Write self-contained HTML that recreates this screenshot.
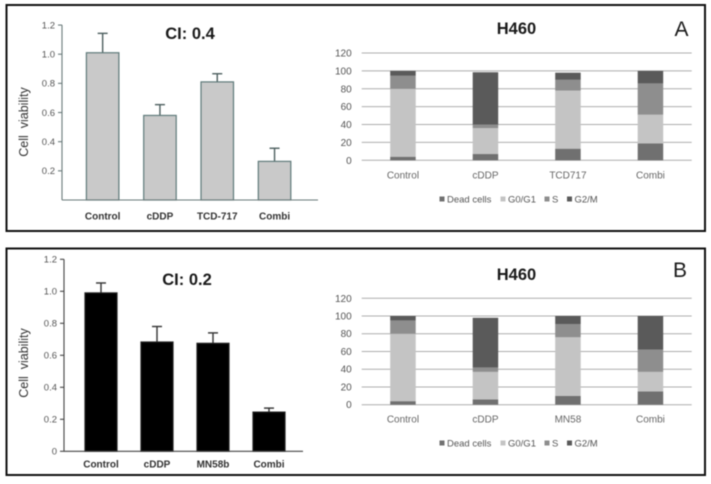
<!DOCTYPE html>
<html lang="en">
<head>
<meta charset="utf-8">
<title>H460 cell viability and cell cycle</title>
<style>
  html, body { margin: 0; padding: 0; background: #fff; }
  svg { display: block; filter: blur(0.45px); font-family: "Liberation Sans", sans-serif; }
</style>
</head>
<body>
<svg id="figure" width="711" height="484" viewBox="0 0 711 484" xmlns="http://www.w3.org/2000/svg">
  <rect x="0" y="0" width="711" height="484" fill="#fff"/>
  <rect x="6.5" y="5" width="698.5" height="226" fill="#fff" stroke="#111" stroke-width="2"/>
  <rect x="6.5" y="248.5" width="698.5" height="226.5" fill="#fff" stroke="#111" stroke-width="2"/>

  <text x="190" y="39" font-size="16.5" font-weight="bold" text-anchor="middle" fill="#1a1a1a">CI: 0.4</text>
  <text x="187" y="285" font-size="16.5" font-weight="bold" text-anchor="middle" fill="#1a1a1a">CI: 0.2</text>
  <text x="516.5" y="34" font-size="16.5" font-weight="bold" text-anchor="middle" fill="#1a1a1a">H460</text>
  <text x="516.5" y="280" font-size="16.5" font-weight="bold" text-anchor="middle" fill="#1a1a1a">H460</text>
  <text x="681.5" y="36" font-size="21" text-anchor="middle" fill="#1a1a1a">A</text>
  <text x="680" y="277" font-size="21" text-anchor="middle" fill="#1a1a1a">B</text>

  <text transform="translate(28,122) rotate(-90)" font-size="12.5" text-anchor="middle" fill="#333" xml:space="preserve">Cell  viability</text>
  <text transform="translate(28,363) rotate(-90)" font-size="12.5" text-anchor="middle" fill="#333" xml:space="preserve">Cell  viability</text>
</svg>

<script>
// Panel A: viability bars
const viabilityCategoriesA = ['Control', 'cDDP', 'TCD-717', 'Combi'];
const viabilityValuesA = [1.01, 0.58, 0.81, 0.265];
const viabilityErrorTopsA = [1.143, 0.654, 0.866, 0.355];
const viabilityTicksA = ['0.2', '0.4', '0.6', '0.8', '1.0', '1.2'];

// Panel B: viability bars
const viabilityCategoriesB = ['Control', 'cDDP', 'MN58b', 'Combi'];
const viabilityValuesB = [0.99, 0.683, 0.675, 0.245];
const viabilityErrorTopsB = [1.052, 0.78, 0.74, 0.27];
const viabilityTicksB = ['0', '0.2', '0.4', '0.6', '0.8', '1.0', '1.2'];

// Cell-cycle stacks (percent of cells per phase)
const stackTicks = [0, 20, 40, 60, 80, 100, 120];
const stackSeriesNames = ['Dead cells', 'G0/G1', 'S', 'G2/M'];

const stackCategoriesA = ['Control', 'cDDP', 'TCD717', 'Combi'];
const deadCellsA = [4, 7, 13, 19];
const g0g1A = [76, 29, 65, 32];
const sPhaseA = [14.5, 4, 12, 35];
const g2mA = [5.5, 58.5, 8, 14];

const stackCategoriesB = ['Control', 'cDDP', 'MN58', 'Combi'];
const deadCellsB = [4, 6, 10, 15];
const g0g1B = [76, 31, 66, 22];
const sPhaseB = [15, 5, 15, 25];
const g2mB = [5, 56, 9, 38];

const svg = document.getElementById('figure');
const NS = 'http://www.w3.org/2000/svg';

function make(tag, attrs) {
  const el = document.createElementNS(NS, tag);
  for (const key in attrs) el.setAttribute(key, attrs[key]);
  svg.appendChild(el);
  return el;
}

function linearScale(zeroPx, pxPerUnit) {
  return function (v) { return zeroPx - v * pxPerUnit; };
}

function drawViability(panel, categories, values, errorTops, ticks, geo) {
  const y = linearScale(geo.y0, geo.pxPerUnit);
  const bandCenter = function (i) { return geo.start + (i + 0.5) * geo.step; };

  const yAxis = make('line', { x1: geo.axisX, x2: geo.axisX, y1: y(1.2), y2: geo.y0, stroke: geo.axisColor, 'stroke-width': 1.1 });
  
  

  ticks.forEach(function (label) {
    const v = parseFloat(label);
    const tick = make('line', { x1: geo.axisX - 4, x2: geo.axisX, y1: y(v), y2: y(v), stroke: geo.axisColor, 'stroke-width': 1.1 });
    
    
    const text = make('text', { x: geo.axisX - 7, y: y(v) + 3.3, 'font-size': 9.5, 'text-anchor': 'end', fill: '#555' });
    text.textContent = label;
    
    
  });

  categories.forEach(function (name, i) {
    const cx = bandCenter(i);
    const errLine = make('line', { x1: cx, x2: cx, y1: y(errorTops[i]), y2: y(values[i]), stroke: geo.errColor, 'stroke-width': 1.4 });
    
    
    const errCap = make('line', { x1: cx - 5, x2: cx + 5, y1: y(errorTops[i]), y2: y(errorTops[i]), stroke: geo.errColor, 'stroke-width': 1.4 });
    
    
    const bar = make('rect', { x: cx - geo.barW / 2, y: y(values[i]), width: geo.barW, height: geo.y0 - y(values[i]), fill: geo.barFill, stroke: geo.barStroke, 'stroke-width': 1.2 });
    
    
    const label = make('text', { x: cx, y: geo.labelY, 'font-size': 10, 'font-weight': 'bold', 'text-anchor': 'middle', fill: '#333' });
    label.textContent = name;
    
    
  });

  const xAxis = make('line', { x1: geo.axisX, x2: geo.axisEnd, y1: geo.y0, y2: geo.y0, stroke: geo.axisColor, 'stroke-width': 1.1 });
  
  
}

const phaseFills = ['#707070', '#c4c4c4', '#8e8e8e', '#5a5a5a'];

function drawStack(panel, categories, seriesList, geo) {
  const y = linearScale(geo.y0, geo.pxPerUnit);
  const step = (geo.right - geo.left) / categories.length;

  stackTicks.forEach(function (v) {
    const grid = make('line', { x1: geo.left, x2: geo.right, y1: y(v), y2: y(v), stroke: '#adadad', 'stroke-width': 1 });
    
    
    const text = make('text', { x: geo.left - 10, y: y(v) + 3.5, 'font-size': 10, 'text-anchor': 'end', fill: '#555' });
    text.textContent = String(v);
    
    
  });

  categories.forEach(function (name, i) {
    const cx = geo.left + (i + 0.5) * step;
    let running = 0;
    seriesList.forEach(function (series, s) {
      const top = running + series[i];
      const seg = make('rect', { x: cx - 12.75, y: y(top), width: 25.5, height: y(running) - y(top), fill: phaseFills[s] });
      
      
      running = top;
    });
    const label = make('text', { x: cx, y: geo.y0 + 18, 'font-size': 10, 'text-anchor': 'middle', fill: '#666' });
    label.textContent = name;
    
    
  });

  const legendMarkerX = [439.5, 500.5, 544.5, 567];
  stackSeriesNames.forEach(function (name, s) {
    const marker = make('rect', { x: legendMarkerX[s], y: geo.legendY - 2.5, width: 5, height: 5, fill: phaseFills[s] });
    
    
    const text = make('text', { x: legendMarkerX[s] + 7.5, y: geo.legendY + 3.3, 'font-size': 9.5, fill: '#555' });
    text.textContent = name;
    
    
  });
}

drawViability('a', viabilityCategoriesA, viabilityValuesA, viabilityErrorTopsA, viabilityTicksA, {
  y0: 200, pxPerUnit: 145.8, axisX: 62, axisEnd: 318, start: 74, step: 57.3, barW: 32.5,
  labelY: 219.5, barFill: '#c9c9c9', barStroke: '#5f7a7a', errColor: '#4d5f5f', axisColor: '#6a7a7a'
});
drawViability('b', viabilityCategoriesB, viabilityValuesB, viabilityErrorTopsB, viabilityTicksB, {
  y0: 451.3, pxPerUnit: 160, axisX: 64, axisEnd: 303, start: 73, step: 56, barW: 32,
  labelY: 467.5, barFill: '#000', barStroke: '#222', errColor: '#333', axisColor: '#444'
});
drawStack('a', stackCategoriesA, [deadCellsA, g0g1A, sPhaseA, g2mA], {
  y0: 160.3, pxPerUnit: 0.894, left: 361.7, right: 691.7, legendY: 199
});
drawStack('b', stackCategoriesB, [deadCellsB, g0g1B, sPhaseB, g2mB], {
  y0: 404.7, pxPerUnit: 0.887, left: 361.7, right: 691.7, legendY: 443
});
</script>
</body>
</html>
